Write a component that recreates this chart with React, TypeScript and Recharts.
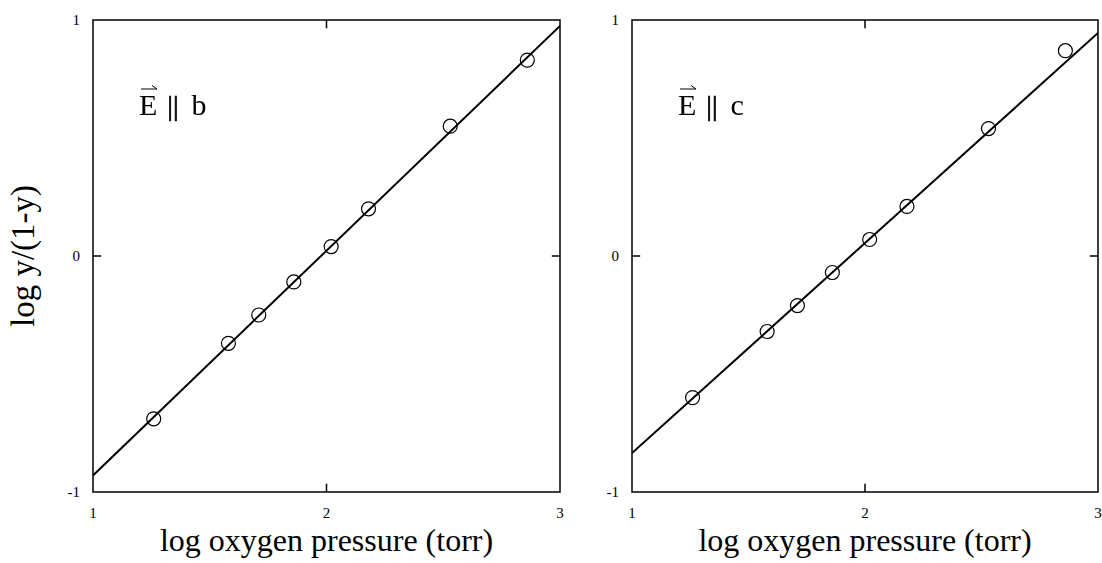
import React from 'react';
import { ScatterChart, Scatter, XAxis, YAxis, ReferenceArea, ReferenceLine } from 'recharts';

// log oxygen pressure (torr), shared by both polarisations
const pressure = [1.26, 1.58, 1.71, 1.86, 2.02, 2.18, 2.53, 2.86];
// log y/(1-y) for E || b and E || c
const ratioB = [-0.69, -0.37, -0.25, -0.11, 0.04, 0.2, 0.55, 0.83];
const ratioC = [-0.6, -0.32, -0.21, -0.07, 0.07, 0.21, 0.54, 0.87];
// least-squares lines, value at x = 1 and x = 3
const fitB = [-0.93, 0.975];
const fitC = [-0.835, 0.945];

const xTicks = [1, 2, 3];
const yTicks = [-1, 0, 1];

const serif = '"Liberation Serif", "DejaVu Serif", serif';
const TK = 0.035; // inner tick length in axis units

const Ring = (p: any) => <circle cx={p.cx} cy={p.cy} r={7} fill="none" stroke="#000" strokeWidth={1.2} />;
const NoDot = () => <g />;

// "E || b" tag with the vector arrow over the E
const FieldTag = ({ sub, left }: { sub: string; left: number }) => (
  <svg width={120} height={50} style={{ position: 'absolute', left, top: 80, willChange: 'transform', transform: 'translateZ(0)' }}>
    <line x1={2} y1={9} x2={18} y2={9} stroke="#000" strokeWidth={1} />
    <line x1={13} y1={5.5} x2={18} y2={9} stroke="#000" strokeWidth={1} />
    <text x={0} y={35} fontFamily={serif} fontSize={30} fill="#000">
      E
      <tspan dx={10} fontSize={28} stroke="#000" strokeWidth={0.7}>||</tspan>
      <tspan dx={13}>{sub}</tspan>
    </text>
  </svg>
);

interface PanelProps {
  ys: number[];
  fit: number[];
  left: number;
  width: number;
  marginLeft: number;
  marginRight: number;
  sub: string;
}

function Panel({ ys, fit, left, width, marginLeft, marginRight, sub }: PanelProps) {
  const pts = pressure.map((x, i) => ({ x, y: ys[i] }));
  const line = [
    { x: 1, y: fit[0] },
    { x: 3, y: fit[1] },
  ];
  const plotL = marginLeft + 40;
  const plotR = width - marginRight;
  const tickStyle = { fontFamily: serif, fontSize: 15, fill: '#000' };
  return (
    <div style={{ position: 'absolute', left, top: 0, width, height: 563 }}>
      <ScatterChart width={width} height={563} margin={{ top: 20, right: marginRight, bottom: 41, left: marginLeft }}>
        <XAxis
          type="number"
          dataKey="x"
          domain={[1, 3]}
          ticks={xTicks}
          allowDataOverflow
          axisLine={false}
          tickLine={false}
          tickSize={8}
          tickMargin={7}
          height={30}
          tick={tickStyle}
        />
        <YAxis
          type="number"
          dataKey="y"
          domain={[-1, 1]}
          ticks={yTicks}
          allowDataOverflow
          axisLine={false}
          tickLine={false}
          tickSize={8}
          tickMargin={5}
          width={40}
          tick={tickStyle}
        />
        <ReferenceArea x1={1} x2={3} y1={-1} y2={1} fill="none" stroke="#000" strokeWidth={1.5} />
        <ReferenceLine segment={[{ x: 2, y: -1 }, { x: 2, y: -1 + TK }]} stroke="#000" strokeWidth={1.5} />
        <ReferenceLine segment={[{ x: 2, y: 1 }, { x: 2, y: 1 - TK }]} stroke="#000" strokeWidth={1.5} />
        <ReferenceLine segment={[{ x: 1, y: 0 }, { x: 1 + TK, y: 0 }]} stroke="#000" strokeWidth={1.5} />
        <ReferenceLine segment={[{ x: 3, y: 0 }, { x: 3 - TK, y: 0 }]} stroke="#000" strokeWidth={1.5} />
        <Scatter data={line} line={{ stroke: '#000', strokeWidth: 2 }} shape={NoDot} isAnimationActive={false} />
        <Scatter data={pts} shape={Ring} isAnimationActive={false} />
      </ScatterChart>
      <FieldTag sub={sub} left={plotL + 46} />
      <div
        style={{
          position: 'absolute',
          left: plotL - 20,
          width: plotR - plotL + 40,
          top: 522,
          textAlign: 'center',
          fontFamily: serif,
          fontSize: 32,
          whiteSpace: 'nowrap',
        }}
      >
        log oxygen pressure (torr)
      </div>
    </div>
  );
}

export default function App() {
  return (
    <div style={{ position: 'absolute', left: 0, top: 0, width: 1102, height: 563, background: '#fff' }}>
      <Panel ys={ratioB} fit={fitB} left={0} width={600} marginLeft={53} marginRight={40} sub="b" />
      <Panel ys={ratioC} fit={fitC} left={540} width={562} marginLeft={52} marginRight={4} sub="c" />
      <div
        style={{
          position: 'absolute',
          left: 23,
          top: 256,
          transform: 'translate(-50%, -50%) rotate(-90deg)',
          fontFamily: serif,
          fontSize: 33,
          whiteSpace: 'nowrap',
        }}
      >
        log y/(1-y)
      </div>
    </div>
  );
}
